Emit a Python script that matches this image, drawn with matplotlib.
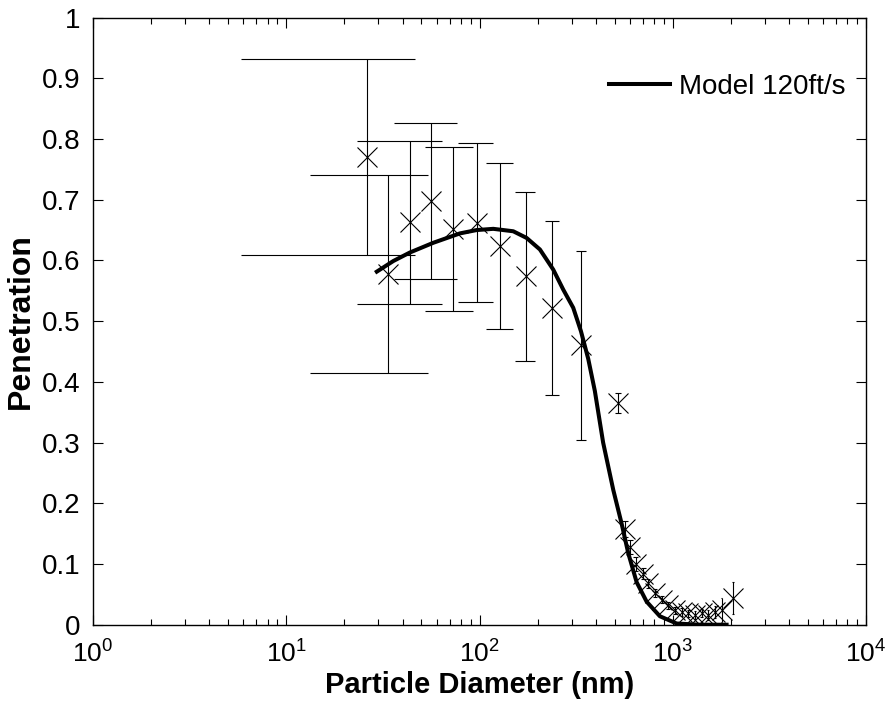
#!/usr/bin/env python3
"""Penetration vs particle diameter, measured points with model curve."""

import matplotlib

matplotlib.use("Agg")
import matplotlib.pyplot as plt
import numpy as np
from matplotlib.ticker import FixedLocator, FuncFormatter, LogLocator, NullFormatter

plt.rcParams["font.family"] = ["Liberation Sans", "DejaVu Sans"]
plt.rcParams["mathtext.fontset"] = "custom"
plt.rcParams["mathtext.rm"] = "Liberation Sans"
plt.rcParams["mathtext.it"] = "Liberation Sans"

# measured penetration (nm, fraction, +/- error)
diameter_nm = [26.1, 33.6, 43.6, 56.3, 72.6, 97.3, 128, 173, 238, 335,
               522, 565, 600, 642, 703, 746, 808, 875, 947, 1025,
               1111, 1202, 1301, 1409, 1525, 1651, 1787, 2053]
penetration = [0.770, 0.577, 0.663, 0.698, 0.651, 0.662, 0.624, 0.574, 0.522, 0.460,
               0.365, 0.158, 0.128, 0.100, 0.084, 0.068, 0.052, 0.041, 0.032, 0.024,
               0.021, 0.019, 0.016, 0.019, 0.016, 0.021, 0.024, 0.044]
pen_err = [0.161, 0.163, 0.134, 0.128, 0.135, 0.131, 0.137, 0.139, 0.143, 0.155,
           0.016, 0.013, 0.012, 0.011, 0.009, 0.008, 0.007, 0.006, 0.006, 0.006,
           0.006, 0.006, 0.006, 0.007, 0.008, 0.010, 0.020, 0.026]

# model curve
model_d = [29.4, 35.8, 43.6, 57.6, 79.2, 96.6, 117.8, 149.4, 175.2, 205.3,
           240.5, 271, 305.3, 335, 365, 395, 436, 492, 543, 588,
           650, 732, 857, 1047, 1380, 1898]
model_p = [0.5815, 0.599, 0.613, 0.629, 0.6445, 0.650, 0.652, 0.648, 0.637, 0.618,
           0.585, 0.552, 0.522, 0.483, 0.438, 0.385, 0.300, 0.222, 0.167, 0.118,
           0.070, 0.038, 0.014, 0.002, 0.0, 0.0]
model_label = "Model 120ft/s"

y_ticks = [0, 0.1, 0.2, 0.3, 0.4, 0.5, 0.6, 0.7, 0.8, 0.9, 1]


def main() -> None:
    d = np.asarray(diameter_nm, dtype=float)
    p = np.asarray(penetration, dtype=float)
    e = np.asarray(pen_err, dtype=float)

    fig = plt.figure(figsize=(8.86, 7.04), dpi=100)
    ax = fig.add_axes([0.105, 0.1126, 0.8725, 0.8625])

    # error bars, caps in data units like MATLAB's errorbar
    tee = (d.max() - d.min()) / 100.0
    ax.vlines(d, p - e, p + e, color="black", lw=0.8, zorder=2)
    ax.hlines(p + e, d - tee, d + tee, color="black", lw=0.8, zorder=2)
    ax.hlines(p - e, d - tee, d + tee, color="black", lw=0.8, zorder=2)
    ax.plot(d, p, ls="none", marker="x", ms=14, mew=0.8, color="black", zorder=3)

    ax.plot(model_d, model_p, color="black", lw=2.9, label=model_label, zorder=4)

    ax.set_xscale("log")
    ax.set_xlim(1, 1e4)
    ax.set_ylim(0, 1)
    ax.xaxis.set_major_locator(LogLocator(base=10, numticks=10))
    ax.xaxis.set_minor_locator(LogLocator(base=10, subs=np.arange(2, 10), numticks=10))
    ax.xaxis.set_minor_formatter(NullFormatter())
    ax.yaxis.set_major_locator(FixedLocator(y_ticks))
    ax.yaxis.set_major_formatter(FuncFormatter(lambda v, _: f"{v:g}"))

    ax.tick_params(which="both", direction="in", top=True, right=True,
                   labelsize=20, width=0.8)
    ax.tick_params(which="major", length=7.5)
    ax.tick_params(which="minor", length=4)
    ax.tick_params(axis="x", labelsize=19, pad=11)
    ax.tick_params(axis="y", pad=9)
    for spine in ax.spines.values():
        spine.set_linewidth(1.0)

    ax.set_xlabel("Particle Diameter (nm)", fontsize=21, fontweight="bold", labelpad=3)
    ax.set_ylabel("Penetration", fontsize=23, fontweight="bold", labelpad=4)

    ax.legend(loc="center right", bbox_to_anchor=(0.974, 0.886), frameon=False,
              fontsize=20, handlelength=2.2, handletextpad=0.35,
              borderpad=0, borderaxespad=0)

    fig.savefig("out.png", dpi=100)
    plt.close(fig)


if __name__ == "__main__":
    main()
